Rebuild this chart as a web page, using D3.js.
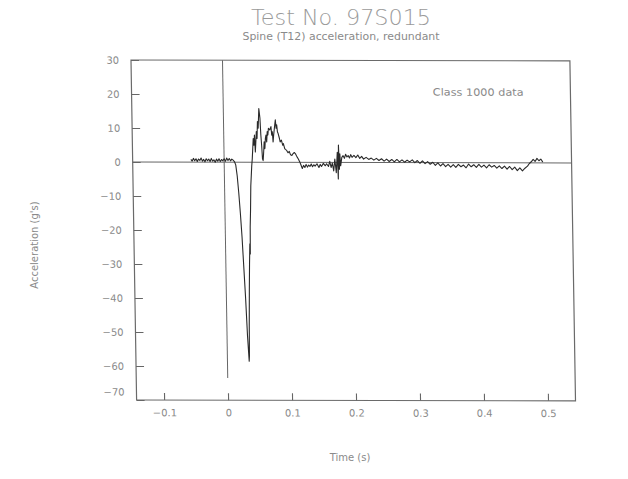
<!DOCTYPE html>
<html><head><meta charset="utf-8">
<script src="https://cdn.jsdelivr.net/npm/d3@7"></script>
<style>
body{margin:0;background:#fff;}
text{font-family:"DejaVu Sans",sans-serif;}
</style></head>
<body>
<svg id="chart" width="628" height="479"></svg>
<script>
const titleText = "Test No. 97S015";
const subtitleText = "Spine (T12) acceleration, redundant";
const xLabel = "Time (s)";
const yLabel = "Acceleration (g's)";
const noteText = "Class 1000 data";
const xTicks = [-0.1, 0, 0.1, 0.2, 0.3, 0.4, 0.5];
const xTickLabels = ["\u22120.1", "0", "0.1", "0.2", "0.3", "0.4", "0.5"];
const yTicks = [30, 20, 10, 0, -10, -20, -30, -40, -50, -60, -70];
const yTickLabels = ["30", "20", "10", "0", "\u221210", "\u221220", "\u221230", "\u221240", "\u221250", "\u221260", "\u221270"];

const time = [
-0.052,-0.050,-0.048,-0.046,-0.044,-0.042,-0.040,-0.038,-0.036,-0.034,-0.032,-0.030,-0.028,-0.026,-0.024,-0.022,-0.020,-0.018,-0.016,-0.014,-0.012,-0.010,-0.008,-0.006,-0.004,-0.002,
0.000,0.002,0.004,0.006,0.008,0.010,0.012,0.014,0.016,0.018,0.020,0.022,0.024,0.026,0.028,0.030,0.032,0.034,0.0345,
0.035,0.036,0.037,0.038,0.0385,0.039,0.040,0.041,0.042,0.043,0.044,0.045,0.046,0.047,0.048,0.049,0.050,0.051,0.052,0.053,0.054,0.0555,0.057,0.058,0.059,0.060,
0.061,0.062,0.063,0.064,0.065,0.066,0.067,0.068,0.069,0.070,0.072,0.074,0.075,0.076,0.077,0.078,0.079,0.080,0.081,0.082,0.083,0.084,0.085,0.087,0.088,0.090,
0.092,0.093,0.095,0.096,0.098,0.100,0.102,0.104,0.106,0.108,0.110,0.112,0.114,0.116,0.118,0.120,0.122,0.124,0.126,0.128,0.130,0.132,0.134,0.136,0.138,0.140,
0.142,0.145,0.148,0.150,0.152,0.155,0.158,0.160,0.163,0.165,0.167,0.169,0.171,0.173,0.175,0.177,0.178,0.179,0.180,0.181,0.182,0.184,0.186,0.188,0.190,
0.192,0.194,0.196,0.198,0.200,0.203,0.206,0.209,0.212,0.215,0.218,0.222,0.226,0.230,0.234,0.238,0.242,0.246,0.250,0.254,0.258,0.262,0.266,
0.270,0.274,0.278,0.282,0.286,0.290,0.294,0.298,0.302,0.306,0.310,0.314,0.318,0.322,0.326,0.330,0.334,0.338,0.342,0.346,0.350,0.354,0.358,0.362,0.366,0.370,
0.374,0.378,0.382,0.386,0.390,0.394,0.398,0.402,0.406,0.410,0.414,0.418,0.422,0.426,0.430,0.434,0.438,0.442,0.446,0.450,0.454,0.458,0.462,0.466,0.470,
0.474,0.477,0.480,0.483,0.486,0.489,0.492,0.495,0.498
];
const accel = [
0.8,0.3,1.1,0.4,1.0,0.2,0.9,0.5,1.2,0.3,0.8,0.1,1.0,0.4,0.9,0.2,1.1,0.3,0.7,0.0,0.9,0.3,1.0,0.2,0.8,0.4,
1.0,0.3,1.2,0.5,1.1,0.4,0.9,0.6,0.2,-0.8,-4,-9,-15,-22,-31,-40,-51,-58.5,-57,
-48,-38,-30,-24,-27,-19,-14,-7,-4,-1,1,4,7,5,8,3,6,9,7,12,10,15.8,13,8,5,1,
0.5,3,6,4,7,8,6,9,8,10,9.5,10.5,8,9,6,8,9.5,11,12.5,10,11,9,8.5,7,6,6.5,
5,5.5,4,3.8,3.5,2.8,3.2,2.2,2.0,2.6,2.9,2.4,1.6,1.0,0.2,-0.8,-1.8,-0.9,-1.5,-0.6,-1.4,-0.8,-1.2,-0.5,-1.3,-0.7,
-1.1,-0.4,-1.5,-0.6,-1.2,-0.3,-1.0,-0.4,-1.2,0.3,-1.5,-0.2,-2.5,1.0,-3,3,-4.9,5.1,-2,2.5,-1,1.5,2.0,1.2,2.4,
1.6,2.0,1.3,2.3,1.5,2.1,1.4,2.2,1.2,1.8,1.0,1.5,0.9,1.3,0.7,1.2,0.6,1.1,0.4,1.0,0.3,0.9,0.2,
0.9,0.2,0.8,0.1,0.7,0.2,0.8,0.0,0.6,-0.2,0.5,-0.3,0.3,-0.5,0.1,-0.8,-0.1,-1.0,-0.3,-1.2,-0.5,-1.3,-0.6,-1.4,-0.5,-1.2,
-0.7,-1.5,-0.4,-1.2,-0.6,-1.4,-0.5,-1.3,-0.7,-1.5,-0.6,-1.3,-0.8,-1.6,-0.9,-1.7,-1.0,-1.9,-1.1,-2.0,-1.3,-2.3,-1.5,-2.4,-1.6,
-1.0,-0.2,0.3,1.0,0.4,1.3,0.6,1.1,0.2
];

const svg = d3.select("#chart");
const W = 440, H = 340;
const x = d3.scaleLinear().domain([-0.143, 0.543]).range([0, W]);
const y = d3.scaleLinear().domain([-70, 30]).range([H, 0]);

const textCol = "#8a8a8a";

// Titles
svg.append("text").attr("x", 341).attr("y", 25).attr("text-anchor", "middle")
  .attr("font-size", 22).attr("font-weight", 200).attr("fill", "#9a9a9a")
  .attr("textLength", 180).attr("lengthAdjust", "spacingAndGlyphs").text(titleText);
svg.append("text").attr("x", 341).attr("y", 40).attr("text-anchor", "middle")
  .attr("font-size", 10).attr("fill", textCol)
  .attr("textLength", 197).attr("lengthAdjust", "spacingAndGlyphs").text(subtitleText);

// plot group with scan shear
const g = svg.append("g").attr("transform", "matrix(0.9975,0.002,0.0165,1.0,131,60)");

// zero line & t=0 line
g.append("line").attr("x1", 0).attr("x2", W).attr("y1", y(0)).attr("y2", y(0))
  .attr("stroke", "#666").attr("stroke-width", 1);
g.append("line").attr("x1", x(0)).attr("x2", x(0)).attr("y1", y(30)).attr("y2", y(-63.5))
  .attr("stroke", "#666").attr("stroke-width", 1);

// frame
g.append("rect").attr("x", 0).attr("y", 0).attr("width", W).attr("height", H)
  .attr("fill", "none").attr("stroke", "#6a6a6a").attr("stroke-width", 1.2);

// axes
const yAxis = d3.axisLeft(y).tickValues(yTicks).tickSize(-8).tickPadding(12)
  .tickFormat((d, i) => yTickLabels[i]);
const ya = g.append("g").call(yAxis);
ya.select(".domain").remove();
ya.selectAll(".tick line").attr("stroke", "#666").attr("stroke-width", 1.1);
ya.selectAll(".tick text").attr("fill", textCol).attr("font-size", 10)
  .attr("font-family", "DejaVu Sans, sans-serif")
  .attr("dy", (d) => d === -70 ? "-0.5em" : "0.32em");

const xAxis = d3.axisBottom(x).tickValues(xTicks).tickSize(-7).tickPadding(9)
  .tickFormat((d, i) => xTickLabels[i]);
const xa = g.append("g").attr("transform", `translate(0,${H})`).call(xAxis);
xa.select(".domain").remove();
xa.selectAll(".tick line").attr("stroke", "#666").attr("stroke-width", 1.1);
xa.selectAll(".tick text").attr("fill", textCol).attr("font-size", 10)
  .attr("font-family", "DejaVu Sans, sans-serif");

// data line
const pts = time.map((t, i) => [t, accel[i]]);
g.append("path").datum(pts)
  .attr("fill", "none").attr("stroke", "#2a2a2a").attr("stroke-width", 1.1)
  .attr("stroke-linejoin", "round")
  .attr("d", d3.line().x(d => x(d[0])).y(d => y(d[1])));

// note
g.append("text").attr("x", 302).attr("y", 35).attr("font-size", 10).attr("fill", textCol)
  .attr("textLength", 91).attr("lengthAdjust", "spacingAndGlyphs").text(noteText);

// axis titles
svg.append("text").attr("x", 350).attr("y", 461).attr("text-anchor", "middle")
  .attr("font-size", 10).attr("fill", textCol).text(xLabel);
svg.append("text").attr("transform", "translate(38,245) rotate(-90)").attr("text-anchor", "middle")
  .attr("font-size", 10).attr("fill", textCol).text(yLabel);
</script>
</body></html>
